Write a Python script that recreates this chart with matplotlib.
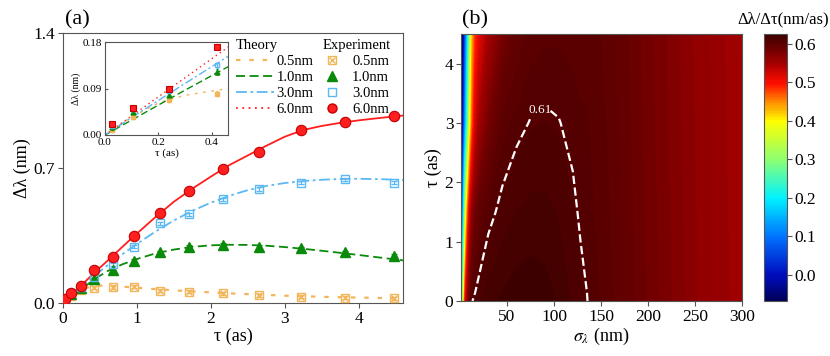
import numpy as np
import matplotlib
matplotlib.use('Agg')
from matplotlib import pyplot as plt
from matplotlib.colors import LinearSegmentedColormap
from matplotlib.lines import Line2D

plt.rcParams['font.family'] = ['Liberation Serif', 'DejaVu Serif']
plt.rcParams['mathtext.fontset'] = 'stix'

# ---- panel (a): experiment points ----
tau_exp = [0.025, 0.105, 0.24, 0.42, 0.67, 0.96, 1.31, 1.71, 2.16, 2.65, 3.22, 3.81, 4.48]
exp_05 = [0.010, 0.035, 0.068, 0.080, 0.082, 0.085, 0.064, 0.059, 0.050, 0.041, 0.033, 0.027, 0.024]
exp_10 = [0.015, 0.045, 0.078, 0.122, 0.172, 0.220, 0.262, 0.292, 0.302, 0.292, 0.283, 0.262, 0.245]
exp_30 = [0.018, 0.050, 0.085, 0.135, 0.200, 0.292, 0.413, 0.461, 0.539, 0.591, 0.624, 0.641, 0.624]
exp_60 = [0.021, 0.053, 0.090, 0.171, 0.237, 0.349, 0.468, 0.582, 0.693, 0.784, 0.897, 0.937, 0.971]
exp_err = 0.005

# ---- panel (a): theory curves ----
tau_th = [0, 0.1, 0.2, 0.3, 0.46, 0.6, 0.8, 1.0, 1.25, 1.5, 1.75, 2.0, 2.25, 2.5,
          2.75, 3.0, 3.25, 3.5, 3.75, 4.0, 4.3, 4.6]
th_05 = [0, 0.035, 0.062, 0.077, 0.090, 0.089, 0.085, 0.079, 0.072, 0.066, 0.060,
         0.055, 0.050, 0.046, 0.042, 0.038, 0.035, 0.032, 0.030, 0.028, 0.026, 0.024]
th_10 = [0, 0.029, 0.058, 0.087, 0.132, 0.165, 0.200, 0.228, 0.257, 0.277, 0.291,
         0.299, 0.302, 0.301, 0.297, 0.290, 0.281, 0.271, 0.260, 0.249, 0.235, 0.221]
th_30 = [0, 0.034, 0.067, 0.100, 0.152, 0.195, 0.252, 0.306, 0.370, 0.428, 0.478,
         0.520, 0.556, 0.585, 0.607, 0.622, 0.632, 0.639, 0.643, 0.644, 0.642, 0.638]
th_60 = [0, 0.037, 0.074, 0.111, 0.170, 0.218, 0.290, 0.360, 0.445, 0.525, 0.593,
         0.655, 0.715, 0.765, 0.815, 0.862, 0.897, 0.918, 0.934, 0.947, 0.960, 0.972]
width_labels = ['0.5nm', '1.0nm', '3.0nm', '6.0nm']

# ---- panel (b): d(lambda)/d(tau) map ----
sigma_grid = [1, 2, 3, 4, 5, 6, 8, 10, 13, 16, 20, 30, 45, 60, 75, 90, 105, 120,
              128, 135, 160, 200, 250, 300]
tau_grid = [0, 1.5, 3.0, 4.5]
rate_map = [
    [-0.065, 0.14, 0.30, 0.41, 0.48, 0.52, 0.565, 0.59, 0.6098, 0.6125, 0.615, 0.619,
     0.622, 0.624, 0.6245, 0.6235, 0.6205, 0.615, 0.6122, 0.6102, 0.602, 0.585, 0.567, 0.552],
    [-0.066, 0.04, 0.13, 0.22, 0.30, 0.37, 0.46, 0.52, 0.565, 0.585, 0.597, 0.607,
     0.6127, 0.6159, 0.6175, 0.6174, 0.6154, 0.6116, 0.609, 0.6082, 0.6008, 0.5843, 0.5664, 0.5516],
    [-0.066, -0.04, -0.01, 0.05, 0.11, 0.16, 0.26, 0.37, 0.47, 0.52, 0.55, 0.58,
     0.6034, 0.6078, 0.6104, 0.6112, 0.6103, 0.6081, 0.6065, 0.6064, 0.5996, 0.5835, 0.5658, 0.5511],
    [-0.067, -0.066, -0.05, -0.01, 0.04, 0.09, 0.19, 0.30, 0.43, 0.48, 0.51, 0.55,
     0.58, 0.5960, 0.6034, 0.605, 0.6052, 0.6047, 0.6046, 0.6046, 0.5984, 0.5828, 0.5652, 0.5507],
]
contour_level = 0.61

c05 = '#f2b55a'
c10 = '#0a8a0a'
c30 = '#5cb8f2'
c60 = '#ff1f1f'
ls05 = (0, (2, 4))
ls10 = (0, (5, 2.5))
ls30 = (0, (6, 2, 1.5, 2))
ls60_dot = (0, (1, 2.5))
frame_col = '#555555'


def style_axes(ax, size=12.5, direction='out', length=3.5):
    for sp in ax.spines.values():
        sp.set_color(frame_col)
    ax.tick_params(labelsize=size, direction=direction, length=length,
                   color=frame_col, pad=2)


def draw_exp(ax, ms_scale=1.0, err=0.0, red_marker='o'):
    kw = dict(capsize=2 * ms_scale, elinewidth=0.8, capthick=0.8, ls='none')
    ax.errorbar(tau_exp, exp_05, yerr=err, fmt='s', mfc='none', mec=c05,
                ecolor=c05, ms=6 * ms_scale, mew=1.0, zorder=4, **kw)
    ax.plot(tau_exp, exp_05, 'x', color=c05, ms=5 * ms_scale, mew=1.0, zorder=4)
    ax.errorbar(tau_exp, exp_10, yerr=err, fmt='^', color=c10, ms=7 * ms_scale,
                zorder=4, **kw)
    ax.errorbar(tau_exp, exp_30, yerr=err, fmt='s', mfc='none', mec=c30,
                ecolor=c30, ms=6 * ms_scale, mew=1.0, zorder=4, **kw)
    ax.errorbar(tau_exp, exp_60, yerr=err, fmt=red_marker, mfc=c60, mec='#c40000',
                ecolor='#c40000', ms=7.5 * ms_scale, mew=0.8, zorder=5, **kw)


fig = plt.figure(figsize=(8.3, 3.56), dpi=100)
ax1 = fig.add_axes([0.0759, 0.1489, 0.4096, 0.7584])
axin = fig.add_axes([0.1265, 0.6208, 0.1482, 0.2612])
ax2 = fig.add_axes([0.5554, 0.1545, 0.3386, 0.75])
cax = fig.add_axes([0.9205, 0.1545, 0.0277, 0.75])

# (a) main
ax1.plot(tau_th, th_05, color=c05, ls=ls05, lw=1.6)
ax1.plot(tau_th, th_10, color=c10, ls=ls10, lw=1.3)
ax1.plot(tau_th, th_30, color=c30, ls=ls30, lw=1.3)
ax1.plot(tau_th, th_60, color=c60, ls='-', lw=1.3)
draw_exp(ax1, 1.0, 0.008)
ax1.set_xlim(0, 4.6)
ax1.set_ylim(0, 1.4)
ax1.set_xticks([0, 1, 2, 3, 4])
ax1.set_yticks([0, 0.7, 1.4])
ax1.set_yticklabels(['0.0', '0.7', '1.4'])
ax1.set_xlabel('τ (as)', fontsize=13, labelpad=1)
ax1.set_ylabel('Δλ (nm)', fontsize=13, labelpad=2)
style_axes(ax1)

th_handles = [Line2D([], [], color=c05, ls=ls05, lw=1.6),
              Line2D([], [], color=c10, ls=ls10, lw=1.3),
              Line2D([], [], color=c30, ls=ls30, lw=1.3),
              Line2D([], [], color=c60, ls=ls60_dot, lw=1.3)]
leg1 = ax1.legend(th_handles, width_labels, title='Theory', loc='upper left',
                  bbox_to_anchor=(0.5, 0.99), frameon=False, fontsize=10.5,
                  title_fontsize=10.5, handlelength=2.6, labelspacing=0.2,
                  handletextpad=0.2, borderpad=0.2, borderaxespad=0,
                  alignment='left')
ax1.add_artist(leg1)
ex_handles = [(Line2D([], [], ls='none', marker='s', mfc='none', mec=c05, ms=5.5),
               Line2D([], [], ls='none', marker='x', color=c05, ms=4.5)),
              Line2D([], [], ls='none', marker='^', color=c10, ms=6.5),
              Line2D([], [], ls='none', marker='s', mfc='none', mec=c30, ms=5.5),
              Line2D([], [], ls='none', marker='o', mfc=c60, mec='#c40000', ms=6.5)]
ax1.legend(ex_handles, width_labels, title='Experiment', loc='upper left',
           bbox_to_anchor=(0.755, 0.99), frameon=False, fontsize=10.5,
           title_fontsize=10.5, handlelength=1.0, labelspacing=0.2,
           handletextpad=0.9, borderpad=0.2, borderaxespad=0)

# (a) inset
axin.plot(tau_th, th_05, color=c05, ls=ls05, lw=1.0)
axin.plot(tau_th, th_10, color=c10, ls=ls10, lw=1.0)
axin.plot(tau_th, th_30, color=c30, ls=ls30, lw=1.0)
axin.plot(tau_th, th_60, color=c60, ls=ls60_dot, lw=1.0)
draw_exp(axin, 0.5, exp_err, red_marker='s')
axin.set_xlim(0, 0.46)
axin.set_ylim(0, 0.18)
axin.set_xticks([0, 0.2, 0.4])
axin.set_xticklabels(['0.0', '0.2', '0.4'])
axin.set_yticks([0, 0.09, 0.18])
axin.set_yticklabels(['0.00', '0.09', '0.18'])
axin.set_xlabel('τ (as)', fontsize=8, labelpad=1)
axin.set_ylabel('Δλ (nm)', fontsize=7, labelpad=1)
style_axes(axin, size=8, direction='in', length=2.5)

# (b) map
cmap = LinearSegmentedColormap.from_list('rate', [
    (0.000, (0.00, 0.00, 0.35)),
    (0.097, (0.00, 0.05, 0.75)),
    (0.241, (0.00, 0.45, 1.00)),
    (0.385, (0.00, 0.95, 1.00)),
    (0.529, (0.55, 1.00, 0.45)),
    (0.673, (1.00, 1.00, 0.00)),
    (0.745, (1.00, 0.55, 0.00)),
    (0.817, (1.00, 0.05, 0.00)),
    (0.889, (0.66, 0.00, 0.00)),
    (0.940, (0.45, 0.00, 0.00)),
    (0.976, (0.33, 0.00, 0.00)),
    (1.000, (0.24, 0.00, 0.00)),
])
levels = np.linspace(-0.068, 0.626, 140)
cf = ax2.contourf(sigma_grid, tau_grid, rate_map, levels=levels, cmap=cmap)
cs = ax2.contour(sigma_grid, tau_grid, rate_map, levels=[contour_level],
                 colors='white', linewidths=1.6, linestyles='dashed')
labels = ax2.clabel(cs, fmt='%.2f', manual=[(86, 3.2)], inline=True,
                    inline_spacing=2, fontsize=9.5, colors='white')
for t in labels:
    t.set_rotation(0)
ax2.set_xlim(1, 300)
ax2.set_ylim(0, 4.5)
ax2.set_xticks([50, 100, 150, 200, 250, 300])
ax2.set_yticks([0, 1, 2, 3, 4])
ax2.set_xlabel(r'$\sigma_\lambda$ (nm)', fontsize=13, labelpad=1)
ax2.set_ylabel('τ (as)', fontsize=13, labelpad=2)
style_axes(ax2)

cb = fig.colorbar(cf, cax=cax, ticks=[0, 0.1, 0.2, 0.3, 0.4, 0.5, 0.6])
cb.ax.set_yticklabels(['0.0', '0.1', '0.2', '0.3', '0.4', '0.5', '0.6'])
cb.outline.set_edgecolor(frame_col)
cb.ax.tick_params(labelsize=12.5, length=3.5, color=frame_col, pad=2)

fig.text(0.078, 0.93, '(a)', fontsize=16)
fig.text(0.557, 0.93, '(b)', fontsize=16)
fig.text(0.999, 0.935, 'Δλ/Δτ(nm/as)', fontsize=12, ha='right')

fig.savefig('out.png', dpi=100)
